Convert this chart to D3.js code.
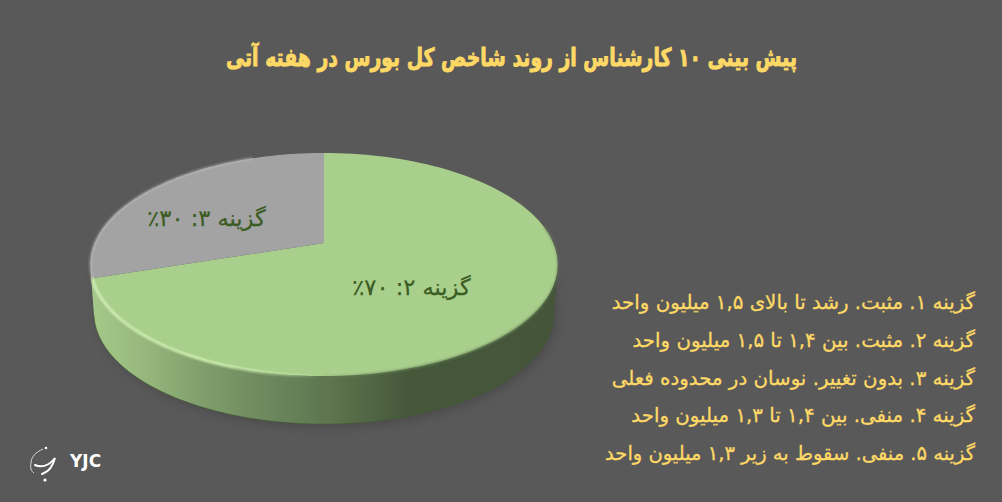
<!DOCTYPE html>
<html lang="fa">
<head>
<meta charset="utf-8">
<script src="https://cdn.jsdelivr.net/npm/d3@7/dist/d3.min.js"></script>
<style>
html,body{margin:0;padding:0;background:#595959;overflow:hidden}
svg{display:block}
text{font-family:"DejaVu Sans",sans-serif}
</style>
</head>
<body>
<svg id="c" width="1002" height="502"></svg>
<script>
const chartTitle = "پیش بینی ۱۰ کارشناس از روند شاخص کل بورس در هفته آتی";
const optionNames = ["گزینه ۱","گزینه ۲","گزینه ۳","گزینه ۴","گزینه ۵"];
const optionShares = [0,70,30,0,0];
const shareLabels = ["","گزینه ۲: ۷۰٪","گزینه ۳: ۳۰٪","",""];
const legendLines = [
 "گزینه ۱. مثبت. رشد تا بالای ۱,۵ میلیون واحد",
 "گزینه ۲. مثبت. بین ۱,۴ تا ۱,۵ میلیون واحد",
 "گزینه ۳. بدون تغییر. نوسان در محدوده فعلی",
 "گزینه ۴. منفی. بین ۱,۴ تا ۱,۳ میلیون واحد",
 "گزینه ۵. منفی. سقوط به زیر ۱,۳ میلیون واحد"
];
const sliceColors = ["#a9cf8c","#a9cf8c","#a3a3a3","#a9cf8c","#a9cf8c"];

const svg = d3.select("#c");
const defs = svg.append("defs");

// perspective view of the pie disc
const cx=324, cy=243, a=229.2, b=107.4, k=-0.193, depth=48, wallScale=0.985;
const proj = (t) => { const u=Math.sin(t), v=-Math.cos(t), d=1+k*v;
  return [cx+a*u/d, cy+b*v/d]; };
const projLow = (t) => { const p=proj(t); return [cx+(p[0]-cx)*wallScale, p[1]+depth]; };
const line = d3.line();
const arcPts = (t0,t1,f=proj) => d3.range(0,121).map(i=>f(t0+(t1-t0)*i/120));

const slices = d3.pie().sort(null).value(d=>d)(optionShares).filter(d=>d.value>0);
const TAU = 2*Math.PI;

const hGrad = (id,x1,x2,stops) => {
  const g = defs.append("linearGradient").attr("id",id)
    .attr("gradientUnits","userSpaceOnUse").attr("x1",x1).attr("x2",x2).attr("y1",0).attr("y2",0);
  stops.forEach(s=>g.append("stop").attr("offset",s[0]).attr("stop-color",s[1]).attr("stop-opacity",s[2]===undefined?1:s[2]));
};
hGrad("wall",90,557,[[0,"#a6ca8a"],[0.1,"#98ba7f"],[0.25,"#7f9d6b"],[0.4,"#6a855b"],[0.52,"#5d744f"],[0.68,"#45583a"],[1,"#45553a"]]);
hGrad("glow",92,320,[[0,"#e2ffc6",1],[0.6,"#dcffbe",1],[0.85,"#dcffbe",.55],[1,"#dcffbe",0]]);
hGrad("edge",300,557,[[0,"#6f8c5e",0],[0.35,"#6f8c5e",.9],[0.9,"#6f8c5e",1],[1,"#6f8c5e",.5]]);

defs.append("filter").attr("id","sh").attr("x","-10%").attr("y","-10%").attr("width","120%").attr("height","130%")
  .append("feGaussianBlur").attr("stdDeviation",4);
defs.append("filter").attr("id","soft").attr("x","-5%").attr("y","-5%").attr("width","110%").attr("height","110%")
  .append("feGaussianBlur").attr("stdDeviation",0.9);

const front = slices.find(d=>d.value===70);
const tl = Math.PI*1.43, tr = Math.PI*0.57;
const topFront = arcPts(tl,tr);
const lowFront = arcPts(tr,tl,projLow);

// soft shadow below the body
svg.append("path").attr("d",line([...arcPts(tl,tr,t=>{const p=projLow(t);return [p[0]+3,p[1]+4];}),
    ...arcPts(tr,tl,proj)])+"Z")
  .attr("fill","#474747").attr("opacity",0.7).attr("filter","url(#sh)");

// wall
svg.append("path").attr("d",line([...topFront,...lowFront])+"Z").attr("fill","url(#wall)");
svg.append("path").attr("d",line(lowFront)).attr("fill","none")
  .attr("stroke","#3f5a2c").attr("stroke-width",1).attr("opacity",.55);

// slices on the top face
svg.append("g").selectAll("path").data(slices).join("path")
  .attr("d",d=>line([[cx,cy],...arcPts(d.startAngle,d.endAngle)])+"Z")
  .attr("fill",d=>sliceColors[d.index]);

// dark soft edge on the right front rim
svg.append("path").attr("d",line(arcPts(Math.PI*0.45,Math.PI))).attr("fill","none")
  .attr("stroke","url(#edge)").attr("stroke-width",1.6).attr("filter","url(#soft)");
// bevel highlight along the left front rim
svg.append("path").attr("d",line(arcPts(front.endAngle,Math.PI))).attr("fill","none")
  .attr("stroke","url(#glow)").attr("stroke-width",2).attr("filter","url(#soft)");
svg.append("path").attr("d",line(arcPts(front.endAngle,TAU*0.94))).attr("fill","none")
  .attr("stroke","#d0d0d0").attr("stroke-width",1.5).attr("opacity",.7).attr("filter","url(#soft)");

// slice labels
const labelPos = {1:[411.5,295],2:[206.5,226]};
svg.append("g").selectAll("text").data(slices).join("text")
  .attr("x",d=>labelPos[d.index][0]).attr("y",d=>labelPos[d.index][1])
  .attr("text-anchor","middle").attr("direction","rtl")
  .attr("font-size",22.5).attr("fill","#3b5c22").attr("stroke","#3b5c22").attr("stroke-width",.25)
  .text(d=>shareLabels[d.index]);

// title
svg.append("text").attr("x",511.5).attr("y",65.5).attr("text-anchor","middle").attr("direction","rtl")
  .attr("font-size",25).attr("font-weight","bold").attr("fill","#ffd966")
  .attr("stroke","#ffd966").attr("stroke-width",.9)
  .attr("textLength",571).attr("lengthAdjust","spacingAndGlyphs").text(chartTitle);

// legend
const legendSize = [19.8,19.8,19.8,19.8,19.5];
svg.append("g").selectAll("text").data(legendLines).join("text")
  .attr("x",975).attr("y",(d,i)=>d3.scaleLinear().domain([0,4]).range([309,460])(i))
  .attr("text-anchor","start").attr("direction","rtl")
  .attr("font-size",(d,i)=>legendSize[i]).attr("fill","#ffd966").attr("stroke","#ffd966").attr("stroke-width",.3).text(d=>d);

// logo
const logo = svg.append("g");
logo.append("text").attr("x",70).attr("y",467).attr("font-size",17).attr("font-weight","bold")
  .attr("fill","#fff").attr("font-family","Liberation Sans").text("YJC");
logo.append("path").attr("d","M43 449 C36 452 31 457 31 463 C30 468 31 471 34 473")
  .attr("fill","none").attr("stroke","#d8d8d8").attr("stroke-width",1);
logo.append("path").attr("d","M35 465 C41 468 49 466 55 458 C53 465 50 471 44 473 L42 474")
  .attr("fill","none").attr("stroke","#fff").attr("stroke-width",2).attr("stroke-linecap","round");
logo.append("circle").attr("cx",45).attr("cy",480).attr("r",1.6).attr("fill","#fff");
logo.append("circle").attr("cx",46).attr("cy",448).attr("r",1.3).attr("fill","#fff");
</script>
</body>
</html>
